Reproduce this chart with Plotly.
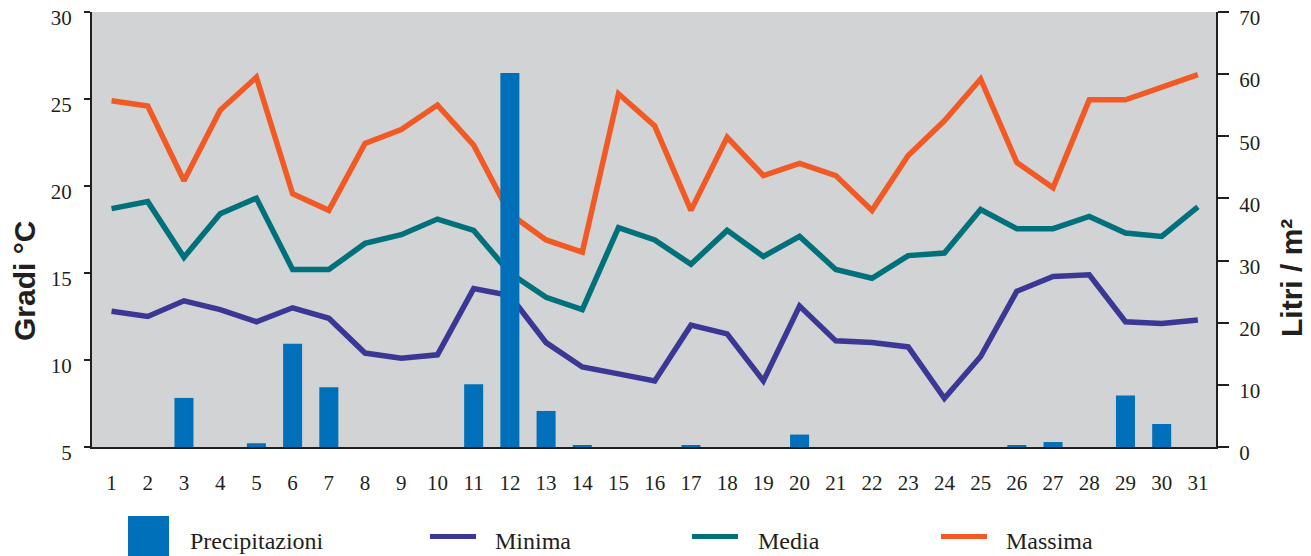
import plotly.graph_objects as go

days = list(range(1, 32))
day_labels = [str(d) for d in days]

precipitazioni = [0, 0, 7.9, 0, 0.6, 16.6, 9.6, 0, 0, 0,
                  10.1, 60.2, 5.8, 0.25, 0, 0, 0.25, 0, 0, 2.0,
                  0, 0, 0, 0, 0, 0.25, 0.8, 0, 8.3, 3.7, 0]

minima = [12.8, 12.5, 13.4, 12.9, 12.2, 13.0, 12.4, 10.4, 10.1, 10.3,
          14.1, 13.7, 11.0, 9.6, 9.2, 8.8, 12.0, 11.5, 8.8, 13.1,
          11.1, 11.0, 10.75, 7.8, 10.2, 13.95, 14.8, 14.9, 12.2, 12.1, 12.3]

media = [18.7, 19.1, 15.9, 18.4, 19.3, 15.2, 15.2, 16.7, 17.2, 18.1,
         17.45, 15.0, 13.6, 12.9, 17.6, 16.9, 15.5, 17.45, 15.95, 17.1,
         15.2, 14.7, 16.0, 16.15, 18.65, 17.55, 17.55, 18.25, 17.3, 17.1, 18.8]

massima = [24.9, 24.6, 20.3, 24.35, 26.25, 19.55, 18.6, 22.45, 23.25, 24.65,
           22.35, 18.4, 16.9, 16.2, 25.3, 23.45, 18.6, 22.8, 20.6, 21.3,
           20.6, 18.6, 21.75, 23.75, 26.15, 21.35, 19.9, 24.95, 24.95, 25.65, 26.4]

series_names = ["Precipitazioni", "Minima", "Media", "Massima"]

C_BAR = "#0070BA"
C_MIN = "#3A3894"
C_MED = "#00717A"
C_MAX = "#F15A25"
BG = "#D1D3D4"

# the page body has an 8px margin: build the figure so that it fits the window
OFF = 8
W, H = 1311 - OFF, 556 - OFF
# plot area in window pixels: x 92..1216, y 12..447
ML = 92 - OFF
MT = 12 - OFF
MR = W - (1216 - OFF)
MB = H - (447 - OFF)
PW = W - ML - MR
PH = H - MT - MB


def px(xp):
    return (xp - OFF - ML) / PW


def py(yp):
    return (H - MB - (yp - OFF)) / PH


fig = go.Figure()

for name, vals, col in [("Minima", minima, C_MIN), ("Media", media, C_MED), ("Massima", massima, C_MAX)]:
    fig.add_trace(go.Scatter(x=days, y=vals, mode="lines", name=name,
                             line=dict(color=col, width=5.5), yaxis="y", showlegend=False))

fig.add_trace(go.Bar(x=days, y=precipitazioni, name="Precipitazioni", marker_color=C_BAR,
                     marker_line_width=0, width=0.525, yaxis="y2", showlegend=False))

serif = "Liberation Serif"
tickfont = dict(family=serif, size=21, color="#231F20")

fig.update_layout(
    width=W, height=H,
    margin=dict(l=ML, r=MR, t=MT, b=MB, pad=0, autoexpand=False),
    paper_bgcolor="white",
    plot_bgcolor=BG,
    showlegend=False,
    xaxis=dict(range=[0.46, 31.5], tickvals=days, ticktext=day_labels, automargin=False,
               showgrid=False, zeroline=False, showline=True, linecolor="#231F20",
               linewidth=2, ticks="", tickfont=tickfont, ticklabelstandoff=16,
               ticklabeloverflow="allow"),
    yaxis=dict(range=[5, 30], dtick=5, showgrid=False, zeroline=False, automargin=False,
               showline=True, linecolor="#231F20", linewidth=2,
               ticks="outside", ticklen=6, tickwidth=1.5, tickcolor="#231F20",
               tickfont=tickfont, ticklabelstandoff=8, ticklabeloverflow="allow",
               ticklabelshift=6),
    yaxis2=dict(range=[0, 70], dtick=10, overlaying="y", side="right", automargin=False,
                showgrid=False, zeroline=False, showline=True, linecolor="#231F20",
                linewidth=2, ticks="outside", ticklen=11, tickwidth=1.5,
                tickcolor="#231F20", tickfont=tickfont, ticklabelstandoff=6,
                ticklabeloverflow="allow", ticklabelshift=6),
)

# axis titles
fig.add_annotation(text="<b>Gradi °C</b>", x=px(24), y=py(281), xref="paper", yref="paper",
                   textangle=-90, showarrow=False, xanchor="center", yanchor="middle",
                   borderpad=0,
                   font=dict(family="Liberation Sans", size=30, color="#231F20"))
fig.add_annotation(text="<b>Litri / m²</b>", x=px(1291), y=py(278), xref="paper", yref="paper",
                   textangle=-90, showarrow=False, xanchor="center", yanchor="middle",
                   borderpad=0,
                   font=dict(family="Liberation Sans", size=30, color="#231F20"))

# legend (drawn manually to match the original layout)
fig.add_shape(type="rect", xref="paper", yref="paper",
              x0=px(128), x1=px(169), y0=py(556), y1=py(516),
              fillcolor=C_BAR, line_width=0)
leg_lines = [(430, 476, C_MIN), (692, 738, C_MED), (941, 987, C_MAX)]
for x0, x1, col in leg_lines:
    fig.add_shape(type="line", xref="paper", yref="paper",
                  x0=px(x0), x1=px(x1), y0=py(536.5), y1=py(536.5),
                  line=dict(color=col, width=5))
leg_text_x = [188, 493, 756, 1004]
for name, xt in zip(series_names, leg_text_x):
    fig.add_annotation(text=name, x=px(xt), y=py(541), xref="paper", yref="paper",
                       showarrow=False, xanchor="left", yanchor="middle",
                       font=dict(family=serif, size=24, color="#231F20"))

fig.write_html("out.html")
